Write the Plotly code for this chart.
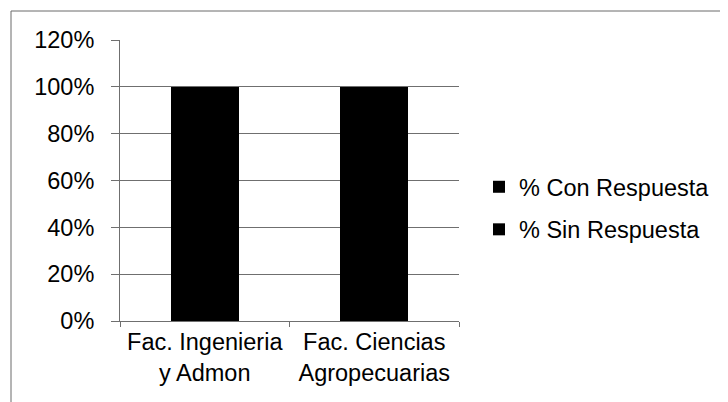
import plotly.graph_objects as go

categories = ["Fac. Ingenieria<br>y Admon", "Fac. Ciencias<br>Agropecuarias"]
con_respuesta = [1.0, 1.0]
sin_respuesta = [0.0, 0.0]
series_names = ["% Con Respuesta", "% Sin Respuesta"]

W, H = 728, 402
OFF = 8  # page body margin
L, T = 120 - OFF, 40 - OFF
R, B = W - (459 - OFF), H - (321 - OFF)
pw, ph = W - L - R, H - T - B

fig = go.Figure()
fig.add_trace(go.Bar(x=categories, y=con_respuesta, name=series_names[0],
                     marker=dict(color="black", line=dict(width=0)), legendgroup="a"))
fig.add_trace(go.Bar(x=categories, y=sin_respuesta, name=series_names[1],
                     marker=dict(color="black", line=dict(width=0)), legendgroup="b"))

gray = "#6f6f6f"
border_y = (H - B - (11 - OFF)) / ph
border_x = ((11 - OFF) - L) / pw
fig.update_layout(
    width=W, height=H, barmode="stack", bargap=0.6,
    margin=dict(l=L, r=R, t=T, b=B),
    paper_bgcolor="white", plot_bgcolor="white",
    font=dict(family="Liberation Sans, Arial, sans-serif", size=23.5, color="black"),
    legend=dict(x=((479 - OFF) - L) / pw, y=(321 - 208.5) / 281, xanchor="left", yanchor="middle",
                traceorder="grouped", tracegroupgap=9, bgcolor="rgba(0,0,0,0)",
                font=dict(size=23.5), itemwidth=30),
    xaxis=dict(type="category", showline=True, linecolor=gray, linewidth=1,
               ticks="outside", tickson="boundaries", ticklen=5, tickcolor=gray,
               showgrid=False),
    yaxis=dict(range=[0, 1.2], dtick=0.2, tickformat=".0%", showline=True,
               linecolor=gray, linewidth=1, ticks="outside", ticklen=8, tickcolor=gray,
               showgrid=True, gridcolor=gray, gridwidth=1, zeroline=False,
               ticklabelstandoff=12),
    shapes=[
        dict(type="line", xref="paper", yref="paper",
             x0=border_x, x1=(W - L) / pw, y0=border_y, y1=border_y,
             line=dict(color="#6a6a6a", width=1)),
        dict(type="line", xref="paper", yref="paper",
             x0=border_x, x1=border_x, y0=border_y, y1=-B / ph,
             line=dict(color="#6a6a6a", width=1)),
    ],
)
fig.write_html("out.html")
